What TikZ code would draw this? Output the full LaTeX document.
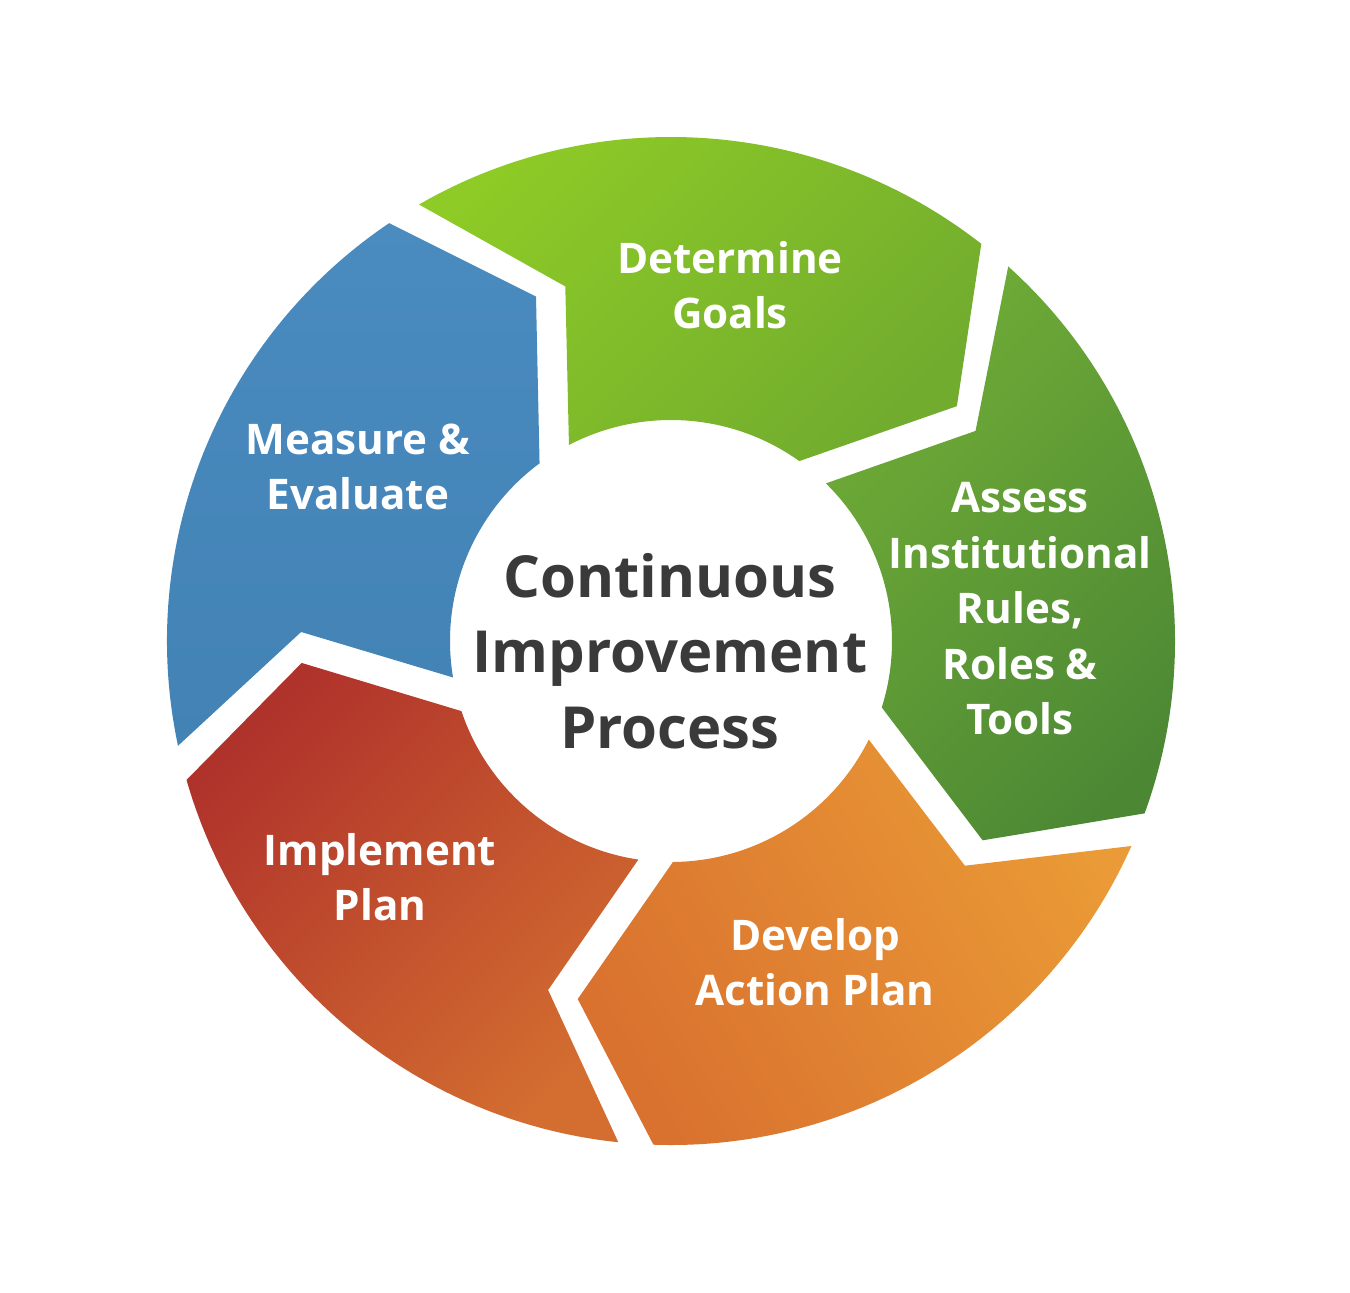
\documentclass[tikz,border=0pt]{standalone}
\usepackage{fontspec}
\setmainfont{Open Sans}
\usepackage{tikz}
\usetikzlibrary{calc}

\definecolor{goalA}{HTML}{8ECB26}
\definecolor{goalB}{HTML}{72AC2E}
\definecolor{assessA}{HTML}{70AC36}
\definecolor{assessB}{HTML}{4C8834}
\definecolor{planA}{HTML}{D9722F}
\definecolor{planB}{HTML}{EA9A36}
\definecolor{implA}{HTML}{B0332B}
\definecolor{implB}{HTML}{D36D30}
\definecolor{measA}{HTML}{4A8BC0}
\definecolor{measB}{HTML}{4282B4}
\definecolor{centertext}{HTML}{3A3A3A}

\tikzset{
    steplabel/.style={align=center, text=white, inner sep=0pt,
        font=\fontsize{24}{31.6}\selectfont\bfseries},
    centerlabel/.style={align=center, text=centertext, inner sep=0pt,
        font=\fontsize{33}{43}\selectfont\bfseries}
}

\begin{document}
\begin{tikzpicture}
        \useasboundingbox (-13.42,-13.02) rectangle (13.58,12.82);

        % Determine Goals (top)
        \shade[top color=goalA, bottom color=goalB, shading angle=45]
            (120:10.08) arc[start angle=120, end angle=52, radius=10.08]
            -- (39.4:7.4) -- (54.5:4.42) arc[start angle=54.5, end angle=117.5, radius=4.42]
            -- (106.6:7.4) -- cycle;

        % Assess (right)
        \shade[top color=assessA, bottom color=assessB, shading angle=45]
            (48:10.08) arc[start angle=48, end angle=-20, radius=10.08]
            -- (-32.6:7.4) -- (-17.5:4.42) arc[start angle=-17.5, end angle=45.5, radius=4.42]
            -- (34.6:7.4) -- cycle;

        % Develop Action Plan (bottom right)
        \shade[top color=planA, bottom color=planB, shading angle=120]
            (-24:10.08) arc[start angle=-24, end angle=-92, radius=10.08]
            -- (-104.6:7.4) -- (-89.5:4.42) arc[start angle=-89.5, end angle=-26.5, radius=4.42]
            -- (-37.4:7.4) -- cycle;

        % Implement Plan (bottom left)
        \shade[top color=implA, bottom color=implB, shading angle=45]
            (-96:10.08) arc[start angle=-96, end angle=-164, radius=10.08]
            -- (-176.6:7.4) -- (-161.5:4.42) arc[start angle=-161.5, end angle=-98.5, radius=4.42]
            -- (-109.4:7.4) -- cycle;

        % Measure & Evaluate (left)
        \shade[top color=measA, bottom color=measB]
            (192:10.08) arc[start angle=192, end angle=124, radius=10.08]
            -- (111.4:7.4) -- (126.5:4.42) arc[start angle=126.5, end angle=189.5, radius=4.42]
            -- (178.6:7.4) -- cycle;

        % Labels
        \node[steplabel] (goals) at (1.18,7.12) {Determine\\Goals};
        \node[steplabel] (assess) at (6.98,0.64) {Assess\\Institutional\\Rules,\\Roles \&\\Tools};
        \node[steplabel] (develop) at (2.88,-6.42) {Develop\\Action Plan};
        \node[steplabel] (implement) at (-5.82,-4.72) {Implement\\Plan};
        \node[steplabel] (measure) at (-6.26,3.48) {Measure \&\\Evaluate};
        \node[centerlabel] (process) at (-0.02,-0.2) {Continuous\\Improvement\\Process};
    \end{tikzpicture}
\end{document}
